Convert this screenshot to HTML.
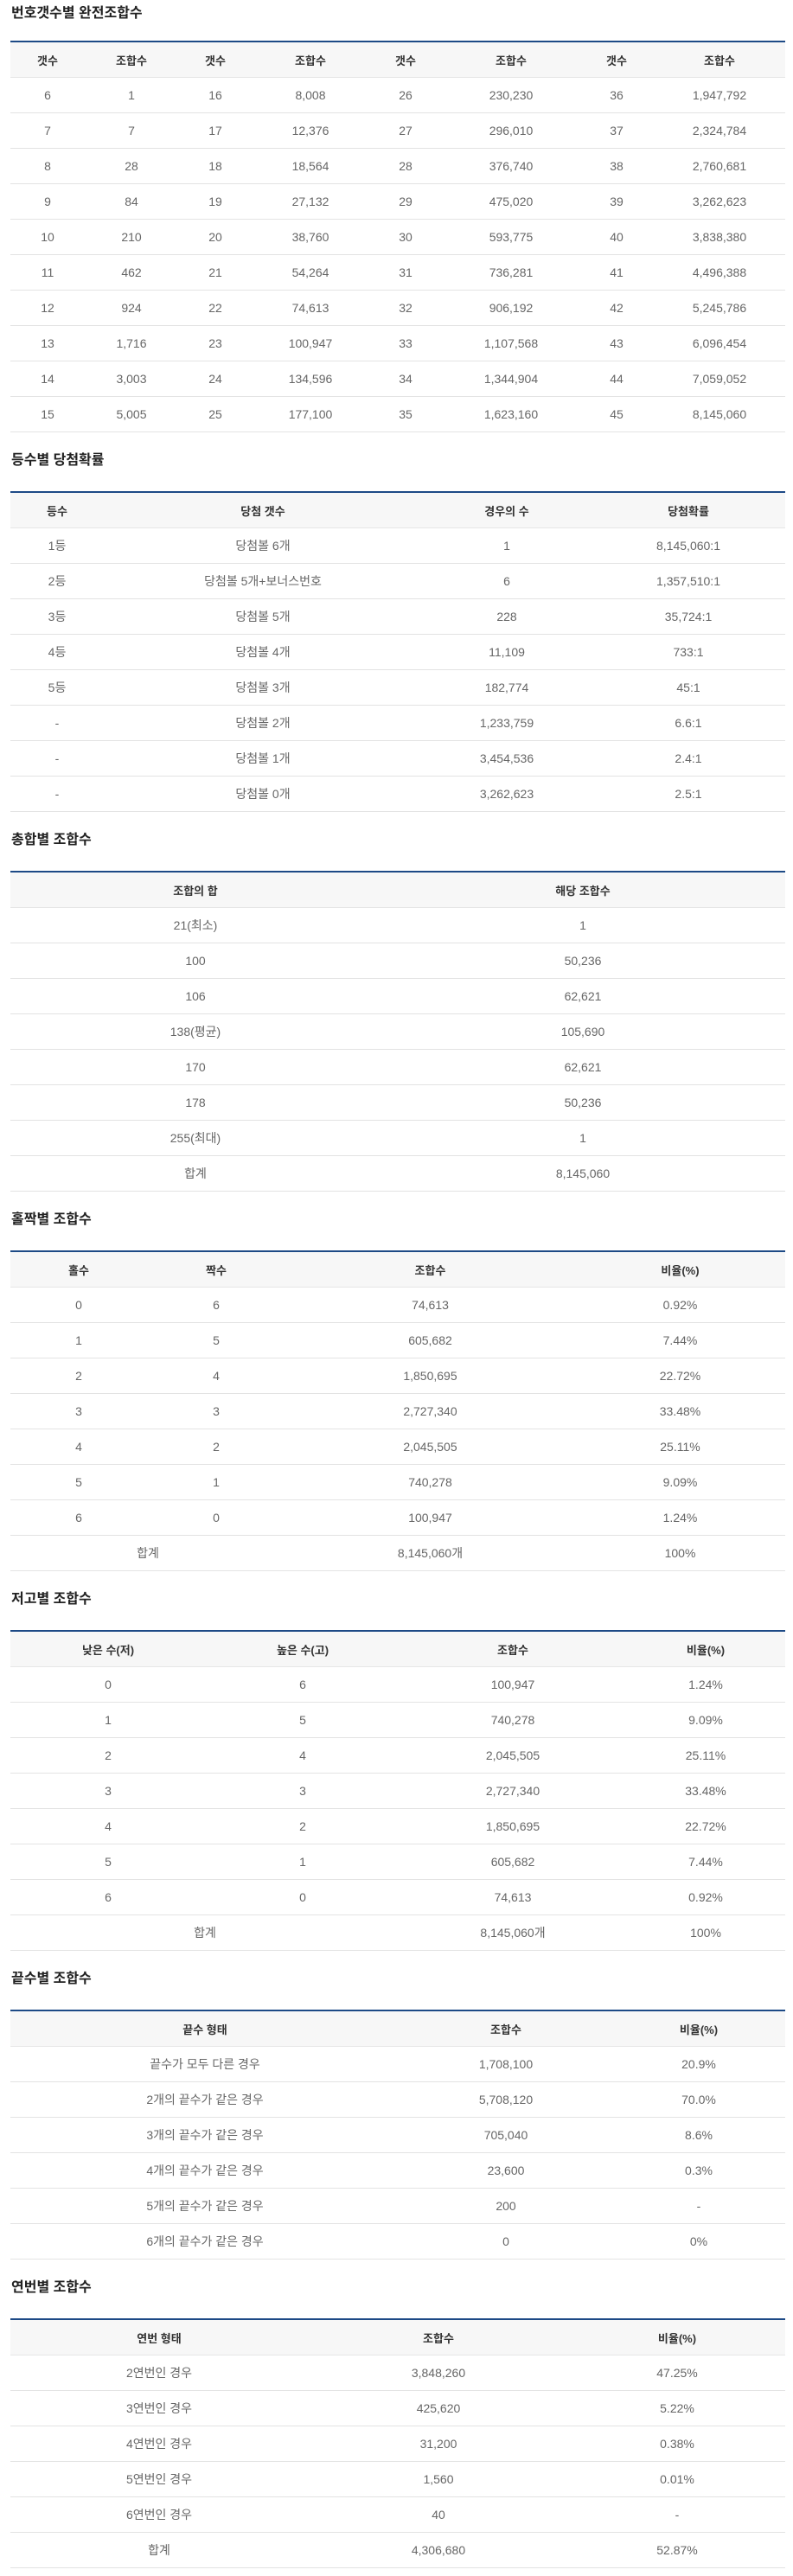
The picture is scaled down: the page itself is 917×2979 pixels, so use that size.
<!DOCTYPE html>
<html lang="ko">
<head>
<meta charset="utf-8">
<style>
*{box-sizing:border-box;margin:0;padding:0}
html,body{width:917px;height:2979px;background:#fff;overflow:hidden}
body{font-family:"Liberation Sans","Noto Sans CJK KR",sans-serif;color:#555}
.sec{margin-left:12px;width:896px}
.title{height:32px;line-height:32px;font-size:16px;font-weight:bold;color:#222;padding-left:1px;margin-top:17px;margin-bottom:19px}
.sec.first .title{margin-top:0;margin-bottom:15px}
.tbl{border-top:2px solid #1d4a86}
.row{display:flex;height:41px;border-bottom:1px solid #e3e3e3}
.row.head{height:41px;background:#f7f7f7;border-bottom:1px solid #e6e6e6}
.c{display:flex;align-items:center;justify-content:center;font-size:14px;color:#666;white-space:nowrap}
.head .c{font-size:13px;font-weight:bold;color:#333}
</style>
</head>
<body>
<div id="root"></div>
<script>
const t1Widths=[86,108,86,134,86,158,86,152];
const t1Head=["갯수","조합수","갯수","조합수","갯수","조합수","갯수","조합수"];
const t1Rows=[
["6","1","16","8,008","26","230,230","36","1,947,792"],
["7","7","17","12,376","27","296,010","37","2,324,784"],
["8","28","18","18,564","28","376,740","38","2,760,681"],
["9","84","19","27,132","29","475,020","39","3,262,623"],
["10","210","20","38,760","30","593,775","40","3,838,380"],
["11","462","21","54,264","31","736,281","41","4,496,388"],
["12","924","22","74,613","32","906,192","42","5,245,786"],
["13","1,716","23","100,947","33","1,107,568","43","6,096,454"],
["14","3,003","24","134,596","34","1,344,904","44","7,059,052"],
["15","5,005","25","177,100","35","1,623,160","45","8,145,060"]];
const t2Widths=[108,368,196,224];
const t2Head=["등수","당첨 갯수","경우의 수","당첨확률"];
const t2Rows=[
["1등","당첨볼 6개","1","8,145,060:1"],
["2등","당첨볼 5개+보너스번호","6","1,357,510:1"],
["3등","당첨볼 5개","228","35,724:1"],
["4등","당첨볼 4개","11,109","733:1"],
["5등","당첨볼 3개","182,774","45:1"],
["-","당첨볼 2개","1,233,759","6.6:1"],
["-","당첨볼 1개","3,454,536","2.4:1"],
["-","당첨볼 0개","3,262,623","2.5:1"]];
const t3Widths=[428,468];
const t3Head=["조합의 합","해당 조합수"];
const t3Rows=[["21(최소)","1"],["100","50,236"],["106","62,621"],["138(평균)","105,690"],["170","62,621"],["178","50,236"],["255(최대)","1"],["합계","8,145,060"]];
const t4Widths=[158,160,335,243];
const t4Head=["홀수","짝수","조합수","비율(%)"];
const t4Rows=[["0","6","74,613","0.92%"],["1","5","605,682","7.44%"],["2","4","1,850,695","22.72%"],["3","3","2,727,340","33.48%"],["4","2","2,045,505","25.11%"],["5","1","740,278","9.09%"],["6","0","100,947","1.24%"],[["합계",2],"8,145,060개","100%"]];
const t5Widths=[226,224,262,184];
const t5Head=["낮은 수(저)","높은 수(고)","조합수","비율(%)"];
const t5Rows=[["0","6","100,947","1.24%"],["1","5","740,278","9.09%"],["2","4","2,045,505","25.11%"],["3","3","2,727,340","33.48%"],["4","2","1,850,695","22.72%"],["5","1","605,682","7.44%"],["6","0","74,613","0.92%"],[["합계",2],"8,145,060개","100%"]];
const t6Widths=[450,246,200];
const t6Head=["끝수 형태","조합수","비율(%)"];
const t6Rows=[["끝수가 모두 다른 경우","1,708,100","20.9%"],["2개의 끝수가 같은 경우","5,708,120","70.0%"],["3개의 끝수가 같은 경우","705,040","8.6%"],["4개의 끝수가 같은 경우","23,600","0.3%"],["5개의 끝수가 같은 경우","200","-"],["6개의 끝수가 같은 경우","0","0%"]];
const t7Widths=[344,302,250];
const t7Head=["연번 형태","조합수","비율(%)"];
const t7Rows=[["2연번인 경우","3,848,260","47.25%"],["3연번인 경우","425,620","5.22%"],["4연번인 경우","31,200","0.38%"],["5연번인 경우","1,560","0.01%"],["6연번인 경우","40","-"],["합계","4,306,680","52.87%"]];

const sections=[
["번호갯수별 완전조합수","complete-combinations",t1Widths,t1Head,t1Rows],
["등수별 당첨확률","prize-probability",t2Widths,t2Head,t2Rows],
["총합별 조합수","sum-combinations",t3Widths,t3Head,t3Rows],
["홀짝별 조합수","odd-even-combinations",t4Widths,t4Head,t4Rows],
["저고별 조합수","low-high-combinations",t5Widths,t5Head,t5Rows],
["끝수별 조합수","last-digit-combinations",t6Widths,t6Head,t6Rows],
["연번별 조합수","consecutive-combinations",t7Widths,t7Head,t7Rows]];

const root=document.getElementById('root');
sections.forEach((s,si)=>{
  const [title,key,widths,head,rows]=s;
  const sec=document.createElement('div');
  sec.className='sec'+(si===0?' first':'');
  
  
  const h=document.createElement('div');
  h.className='title';h.textContent=title;
  
  
  sec.appendChild(h);
  const tbl=document.createElement('div');
  tbl.className='tbl';
  
  
  const mk=(cells,isHead)=>{
    const r=document.createElement('div');
    r.className='row'+(isHead?' head':'');
    
    
    let ci=0;
    cells.forEach(cell=>{
      let text=cell,span=1;
      if(Array.isArray(cell)){text=cell[0];span=cell[1];}
      let w=0;for(let k=0;k<span;k++)w+=widths[ci+k];
      ci+=span;
      const c=document.createElement('div');
      c.className='c';c.style.width=w+'px';c.textContent=text;
      
      
      r.appendChild(c);
    });
    tbl.appendChild(r);
  };
  mk(head,true);
  rows.forEach(r=>mk(r,false));
  sec.appendChild(tbl);
  root.appendChild(sec);
});
</script>
</body>
</html>
